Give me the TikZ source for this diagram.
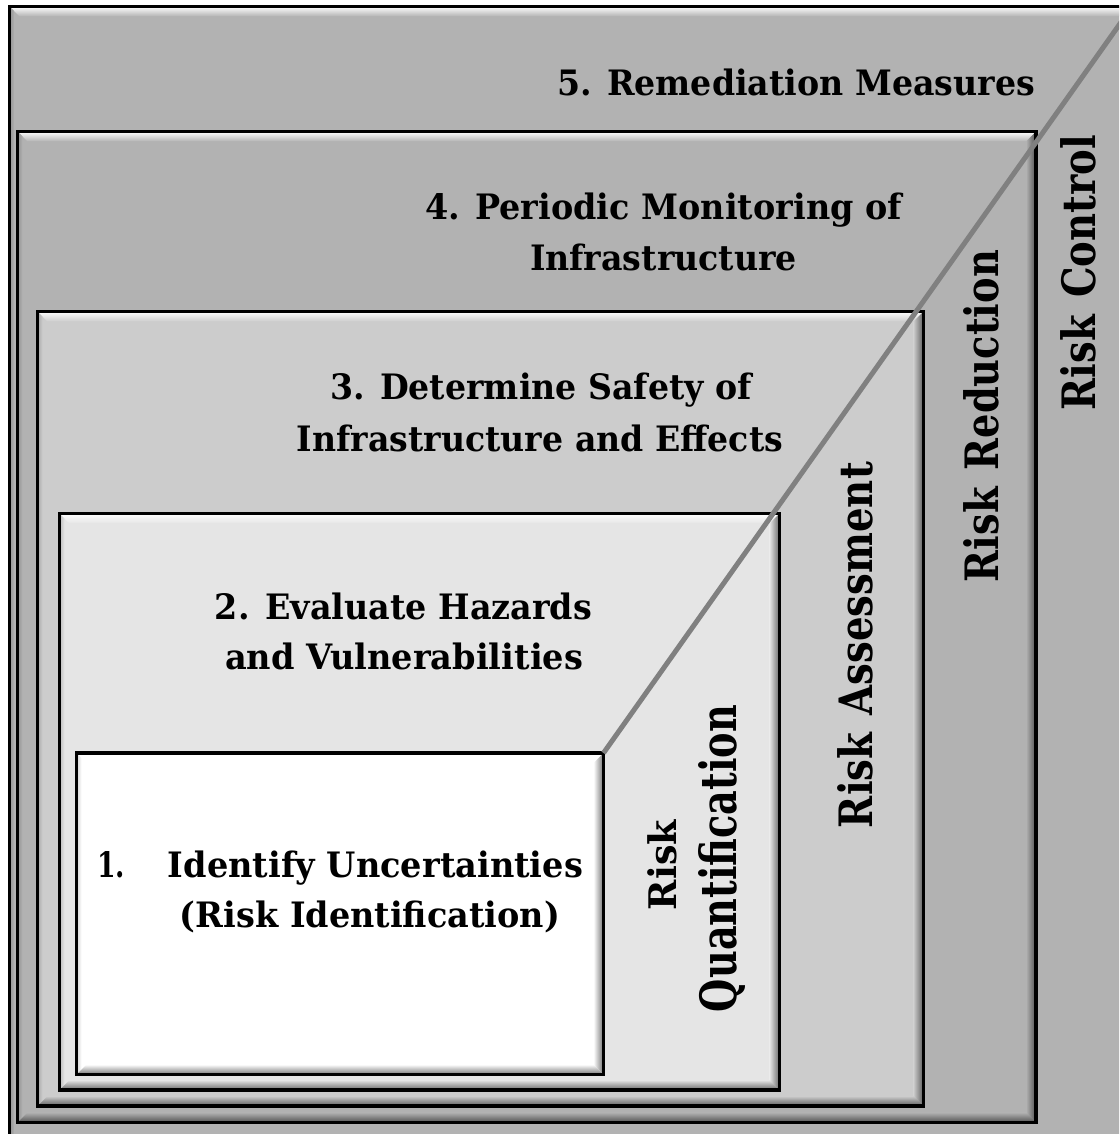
\documentclass[tikz,border=0pt]{standalone}
\usepackage{fontspec}
\usepackage{graphicx}
\setmainfont{DejaVu Serif}
\definecolor{gfive}{HTML}{B2B2B2}
\definecolor{gfour}{HTML}{B2B2B2}
\definecolor{gthree}{HTML}{CCCCCC}
\definecolor{gtwo}{HTML}{E5E5E5}
\definecolor{gone}{HTML}{FFFFFF}
\definecolor{diaggray}{HTML}{808080}
\newcommand\fitw[2]{\resizebox{#1pt}{\height}{#2}}
% bevelled box: x1 y1 x2 y2 colour
\newcommand\bevbox[5]{%
  \fill[#5] (#1,#2) rectangle (#3,#4);
  \shade[top color=white,bottom color=#5] (#1,#2) -- (#3,#2) -- ({#3-10},{#2+10}) -- ({#1+10},{#2+10}) -- cycle;
  \shade[left color=#5!82!black,right color=#5] (#1,#2) -- ({#1+5},{#2+5}) -- ({#1+5},{#4-5}) -- (#1,#4) -- cycle;
  \shade[left color=#5,right color=#5!45!black] (#3,#2) -- (#3,#4) -- ({#3-10},{#4-10}) -- ({#3-10},{#2+10}) -- cycle;
  \shade[top color=#5,bottom color=#5!45!black] (#1,#4) -- (#3,#4) -- ({#3-10},{#4-10}) -- ({#1+10},{#4-10}) -- cycle;
  \draw[line width=3.2pt] (#1,#2) rectangle (#3,#4);
}
\begin{document}
\begin{tikzpicture}[x=1pt,y=-1pt,
  hlbl/.style={font=\fontsize{35}{42}\selectfont\bfseries, inner sep=0pt, anchor=base},
  vlbl/.style={font=\fontsize{46}{54}\selectfont\bfseries, inner sep=0pt, anchor=base, rotate=90},
  diag/.style={draw=diaggray, line width=5pt}]
\useasboundingbox (0,0) rectangle (1119,1134);
\clip (0,0) rectangle (1119,1134);
% boxes
\bevbox{9.5}{6.5}{1140}{1150}{gfive}
\bevbox{17.5}{131.5}{1036}{1122.5}{gfour}
\bevbox{37.5}{311.5}{923.5}{1106}{gthree}
\bevbox{59.5}{513.5}{779.5}{1090}{gtwo}
\bevbox{76.5}{753}{603.5}{1074.5}{gone}
% diagonal
\coordinate (b1ne) at (603.5,753);
\coordinate (diagend) at (1124,18);
\draw[diag] (b1ne) -- (diagend);
% horizontal labels
\node[hlbl] (t5) at (796,96) {\fitw{478}{5. Remediation Measures}};
\node[hlbl] (t4a) at (663.5,219) {\fitw{477}{4. Periodic Monitoring of}};
\node[hlbl] (t4b) at (663.5,270) {\fitw{267}{Infrastructure}};
\node[hlbl] (t3a) at (541,399) {\fitw{422}{3. Determine Safety of}};
\node[hlbl] (t3b) at (540,451) {\fitw{486}{Infrastructure and Effects}};
\node[hlbl] (t2a) at (403.5,619) {\fitw{377}{2. Evaluate Hazards}};
\node[hlbl] (t2b) at (404,669) {\fitw{358}{and Vulnerabilities}};
\node[hlbl] (t1n) at (111,877) {\fitw{28}{1.}};
\node[hlbl] (t1a) at (375.5,877) {\fitw{415}{Identify Uncertainties}};
\node[hlbl] (t1b) at (370,927) {\fitw{380}{(Risk Identification)}};
% vertical labels
\node[vlbl, font=\fontsize{38}{44}\selectfont\bfseries] (rq1) at (676,865) {\fitw{90}{Risk}};
\node[vlbl, font=\fontsize{50}{58}\selectfont\bfseries] (rq2) at (736,858.5) {\fitw{307}{Quantification}};
\node[vlbl] (ra) at (872,645) {\fitw{366}{Risk\hspace{0.45em}Assessment}};
\node[vlbl] (rr) at (998,416) {\fitw{332}{Risk\hspace{0.45em}Reduction}};
\node[vlbl] (rc) at (1095,272.5) {\fitw{275}{Risk\hspace{0.45em}Control}};
\end{tikzpicture}
\end{document}
